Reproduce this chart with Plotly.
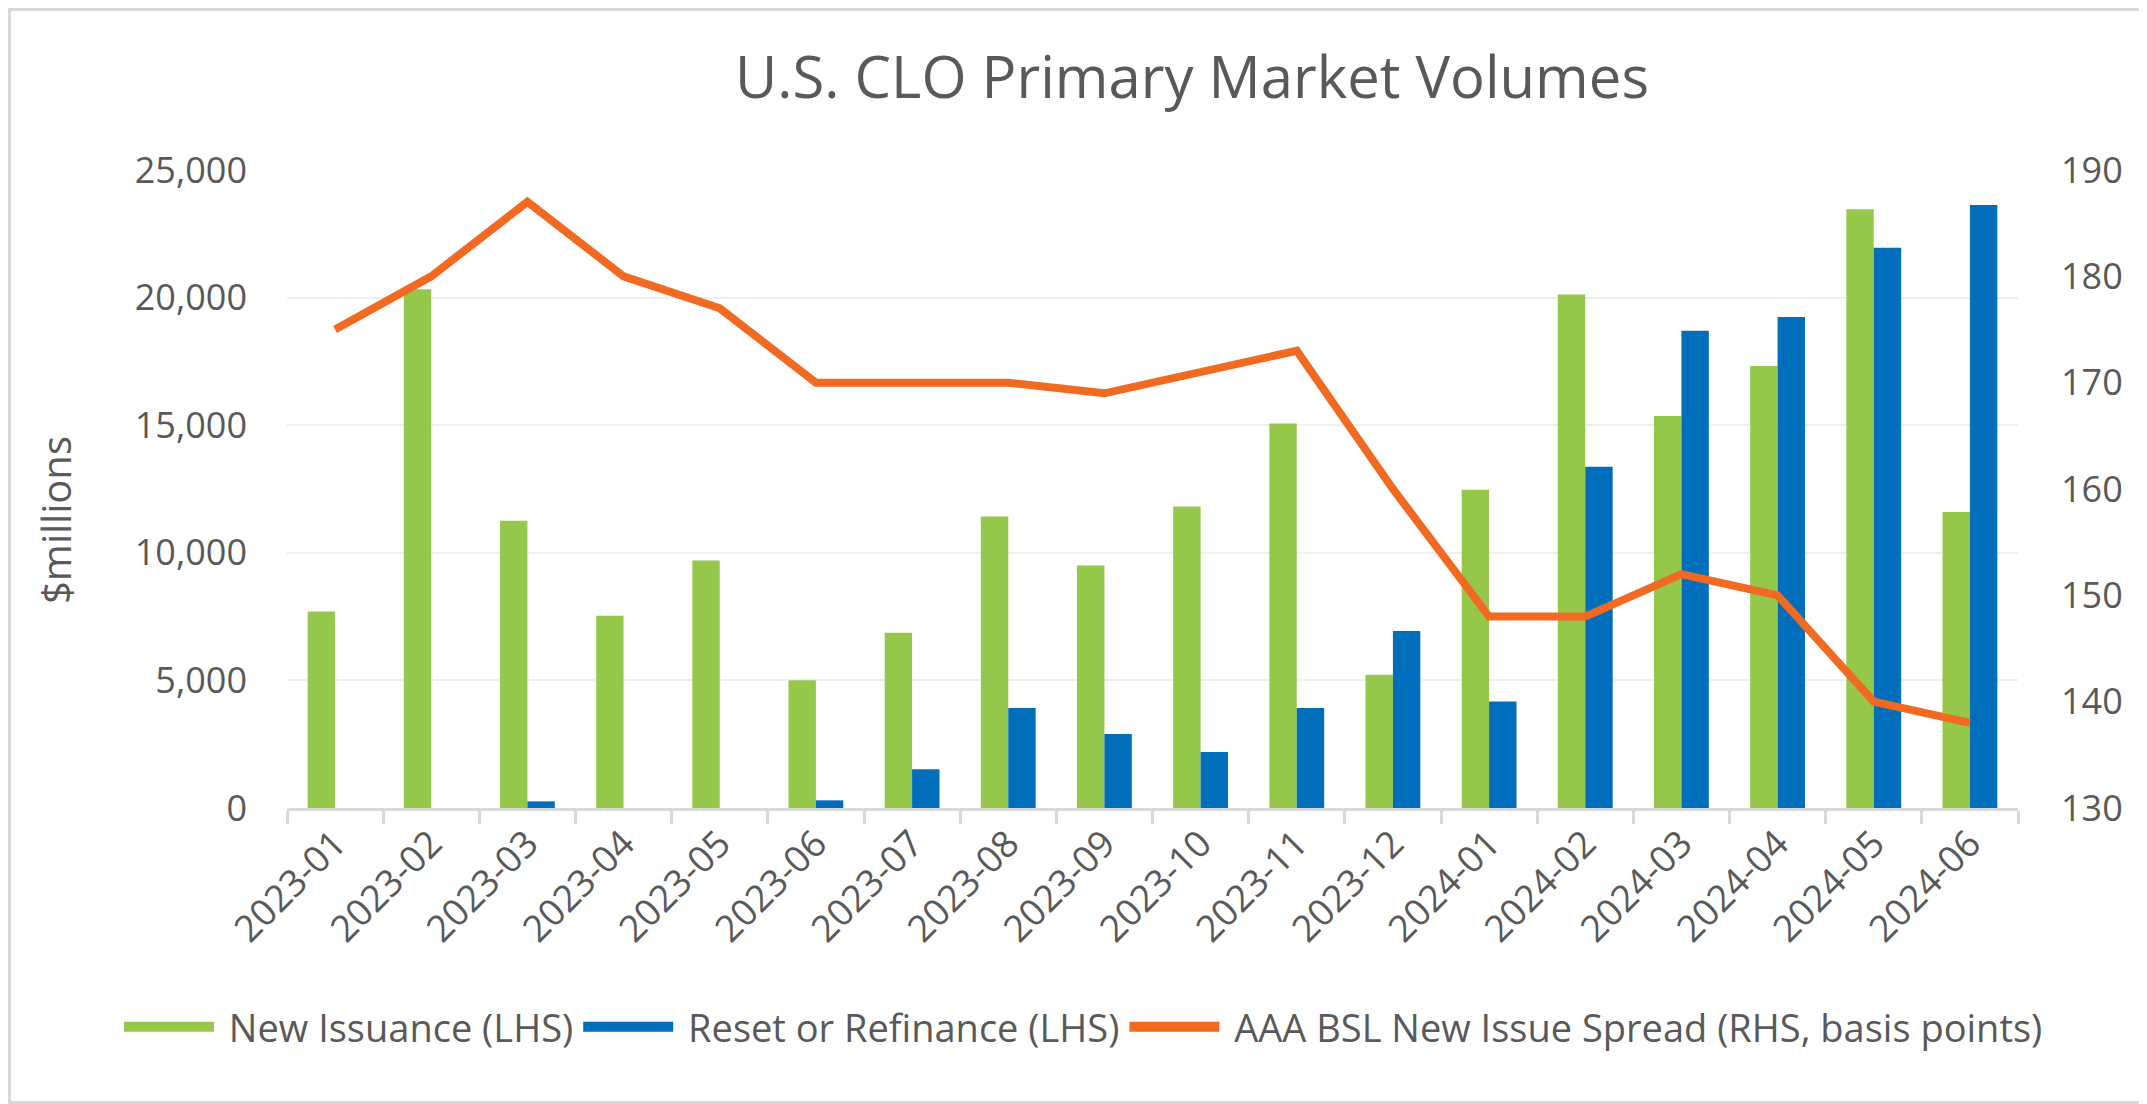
import plotly.graph_objects as go

months = ["2023-01", "2023-02", "2023-03", "2023-04", "2023-05", "2023-06",
          "2023-07", "2023-08", "2023-09", "2023-10", "2023-11", "2023-12",
          "2024-01", "2024-02", "2024-03", "2024-04", "2024-05", "2024-06"]
new_issuance = [7700, 20330, 11260, 7530, 9700, 5010,
                6870, 11420, 9500, 11810, 15070, 5220,
                12470, 20120, 15360, 17320, 23460, 11600]
reset_refi = [0, 0, 260, 0, 0, 300,
              1520, 3920, 2900, 2190, 3920, 6940,
              4170, 13370, 18700, 19240, 21950, 23630]
spread = [175, 180, 187, 180, 177, 170,
          170, 170, 169, 171, 173, 160,
          148, 148, 152, 150, 140, 138]

left_ticks = [0, 5000, 10000, 15000, 20000, 25000]
right_ticks = [130, 140, 150, 160, 170, 180, 190]

names = ["New Issuance (LHS)", "Reset or Refinance (LHS)",
         "AAA BSL New Issue Spread (RHS, basis points)"]
colors = ["#95C84A", "#006EBA", "#F26A22"]

OFF = 8  # page body margin of the exported html
W, H = 2147 - OFF, 1104 - OFF
ML, MT = 287 - OFF, 170 - OFF
MR = W - (2018 - OFF)
MB = H - (808 - OFF)
PW, PH = W - ML - MR, H - MT - MB

TXT = "#595959"
FONT = "Open Sans"
NB = "\u00a0"

fig = go.Figure()
fig.add_trace(go.Bar(x=months, y=new_issuance, name=names[0], showlegend=False,
                     marker=dict(color=colors[0], line=dict(width=0))))
fig.add_trace(go.Bar(x=months, y=reset_refi, name=names[1], showlegend=False,
                     marker=dict(color=colors[1], line=dict(width=0))))
fig.add_trace(go.Scatter(x=months, y=spread, name=names[2], showlegend=False,
                         mode="lines", yaxis="y2",
                         line=dict(color=colors[2], width=8)))

# legend entries (wide swatches like the original)
for nm, col, lw in zip(names, colors, [27, 27, 11]):
    fig.add_trace(go.Scatter(x=[None], y=[None], name=NB + nm, mode="lines",
                             line=dict(color=col, width=lw), hoverinfo="skip"))

fig.update_layout(
    width=W, height=H,
    margin=dict(l=ML, r=MR, t=MT, b=MB, autoexpand=False),
    paper_bgcolor="white", plot_bgcolor="white",
    barmode="group", bargap=0.43, bargroupgap=0,
    font=dict(family=FONT, color=TXT, size=36),
    title=dict(text="U.S. CLO Primary Market Volumes",
               x=(1192 - OFF) / W, xref="container", xanchor="center",
               y=1 - (78 - OFF) / H, yref="container", yanchor="middle",
               font=dict(family=FONT, size=58, color=TXT)),
    xaxis=dict(type="category", tickangle=-45, tickson="boundaries",
               ticks="outside", ticklen=13, tickwidth=3, tickcolor="#D9D9D9",
               showline=True, linecolor="#D9D9D9", linewidth=3,
               showgrid=False, ticklabelstandoff=-4, automargin=False,
               tickfont=dict(size=37, color=TXT)),
    yaxis=dict(range=[0, 25000], tickvals=left_ticks, tickformat=",d",
               showgrid=True, gridcolor="#EFEFEF", gridwidth=2,
               zeroline=False, showline=False, ticks="", automargin=False,
               ticklabelstandoff=39,
               tickfont=dict(size=36, color=TXT)),
    yaxis2=dict(range=[130, 190], tickvals=right_ticks, overlaying="y", side="right",
                showgrid=False, zeroline=False, showline=False, ticks="",
                ticklabelstandoff=42, automargin=False,
                tickfont=dict(size=36, color=TXT)),
    legend=dict(orientation="h", x=(111 - ML) / PW, xanchor="left",
                y=(PH - (1027 - OFF - MT)) / PH, yanchor="middle",
                font=dict(size=38, color=TXT), itemwidth=90,
                tracegroupgap=0, traceorder="normal"),
    showlegend=True,
)

fig.add_annotation(text="$millions", textangle=-90, showarrow=False,
                   xref="paper", yref="paper",
                   x=(47 - ML) / PW, y=(PH - (512 - MT)) / PH,
                   xanchor="center", yanchor="middle",
                   font=dict(size=40, color=TXT, family=FONT))

fig.add_shape(type="rect", xref="paper", yref="paper",
              x0=(1.5 - ML) / PW, x1=1 + (MR - 1.5) / PW,
              y0=-(MB - 1.5) / PH, y1=1 + (MT - 1.5) / PH,
              line=dict(color="#D9D9D9", width=3), layer="below")

fig.write_html("out.html")
